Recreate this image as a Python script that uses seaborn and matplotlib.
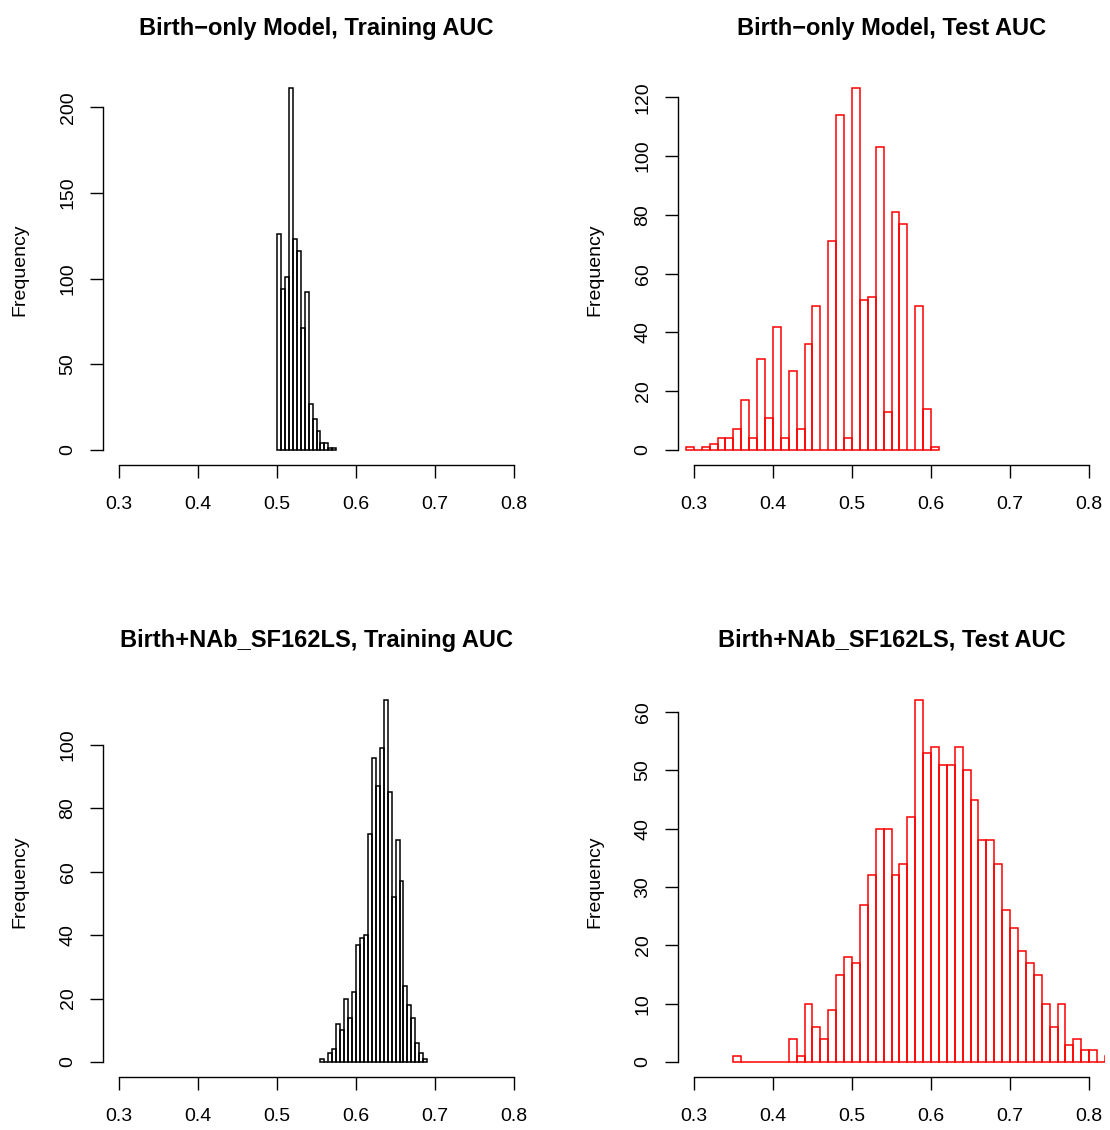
import matplotlib
matplotlib.use("Agg")
import matplotlib.pyplot as plt
import numpy as np
import pandas as pd
import seaborn as sns

# bootstrap AUC histograms (counts per bin)
train_birth_start = 0.50
train_birth_width = 0.005
train_birth_counts = [126, 94, 101, 211, 123, 116, 71, 92, 27, 18, 11, 4, 4, 1, 1]

test_birth_start = 0.29
test_birth_width = 0.01
test_birth_counts = [1, 0, 1, 2, 4, 4, 7, 17, 4, 31, 11, 42, 4, 27, 7, 36,
                     49, 0, 71, 114, 4, 123, 51, 52, 103, 13, 81, 77, 0, 49, 14, 1]

train_nab_start = 0.555
train_nab_width = 0.005
train_nab_counts = [1, 0, 3, 4, 12, 10, 20, 14, 22, 37, 39, 40, 72, 96, 87, 99,
                    114, 85, 52, 70, 57, 24, 18, 14, 6, 3, 1]

test_nab_start = 0.35
test_nab_width = 0.01
test_nab_counts = [1, 0, 0, 0, 0, 0, 0, 4, 1, 10, 6, 4, 9, 15, 18, 17, 27, 32,
                   40, 40, 32, 34, 42, 62, 53, 54, 51, 51, 54, 50, 45, 38, 38,
                   34, 26, 23, 19, 17, 15, 10, 6, 10, 3, 4, 2, 2, 0, 1]

titles = ["Birth\u2212only Model, Training AUC", "Birth\u2212only Model, Test AUC",
          "Birth+NAb_SF162LS, Training AUC", "Birth+NAb_SF162LS, Test AUC"]
x_ticks = [0.3, 0.4, 0.5, 0.6, 0.7, 0.8]
x_tick_labels = ["0.3", "0.4", "0.5", "0.6", "0.7", "0.8"]
y_ticks_list = [[0, 50, 100, 150, 200],
                [0, 20, 40, 60, 80, 100, 120],
                [0, 20, 40, 60, 80, 100],
                [0, 10, 20, 30, 40, 50, 60]]

sns.set_style("ticks")
plt.rcParams["font.family"] = ["Liberation Sans", "DejaVu Sans"]
plt.rcParams["text.color"] = "black"
plt.rcParams["axes.labelcolor"] = "black"

W, H = 1110, 1130
fig = plt.figure(figsize=(W / 100, H / 100), dpi=100)

# plot regions in pixels: (left, top) of each panel
panel_px = [(103, 74), (678, 74), (103, 686), (678, 686)]
reg_w, reg_h = 427, 390.5

panels = [
    (train_birth_start, train_birth_width, train_birth_counts, "black"),
    (test_birth_start, test_birth_width, test_birth_counts, "red"),
    (train_nab_start, train_nab_width, train_nab_counts, "black"),
    (test_nab_start, test_nab_width, test_nab_counts, "red"),
]

for i, (start, width, counts, col) in enumerate(panels):
    left, top = panel_px[i]
    ax = fig.add_axes([left / W, 1 - (top + reg_h) / H, reg_w / W, reg_h / H])
    edges = [start + width * k for k in range(len(counts) + 1)]
    df = pd.DataFrame({"auc": [e + width / 2 for e in edges[:-1]],
                       "n": counts})
    sns.histplot(data=df, x="auc", weights="n", bins=edges, ax=ax, fill=False,
                 color=col, linewidth=1.1)

    ymax = max(counts)
    ax.set_xlim(0.28, 0.82)
    ax.set_ylim(-0.04 * ymax, 1.04 * ymax)
    yt = y_ticks_list[i]
    ax.set_xticks(x_ticks)
    ax.set_xticklabels(x_tick_labels)
    ax.set_yticks(yt)
    ax.set_yticklabels([str(v) for v in yt], rotation=90, va="center")
    ax.spines["top"].set_visible(False)
    ax.spines["right"].set_visible(False)
    ax.spines["bottom"].set_bounds(0.3, 0.8)
    ax.spines["left"].set_bounds(yt[0], yt[-1])
    for s in ("bottom", "left"):
        ax.spines[s].set_linewidth(1.0)
        ax.spines[s].set_color("black")
    ax.tick_params(axis="both", direction="out", length=9.5, width=1.0,
                   labelsize=14, colors="black")
    ax.tick_params(axis="x", pad=13)
    ax.tick_params(axis="y", pad=9.5)
    ax.set_xlabel("")
    ax.set_ylabel("Frequency", fontsize=14, va="center", color="black")
    ax.yaxis.set_label_coords(-83 / reg_w, 0.5)
    ax.set_title(titles[i], fontsize=17, fontweight="bold", color="black",
                 y=(reg_h + 46) / reg_h, va="center", pad=0)
    ax.patch.set_alpha(0)

fig.savefig("out.png", dpi=100, facecolor="white")
